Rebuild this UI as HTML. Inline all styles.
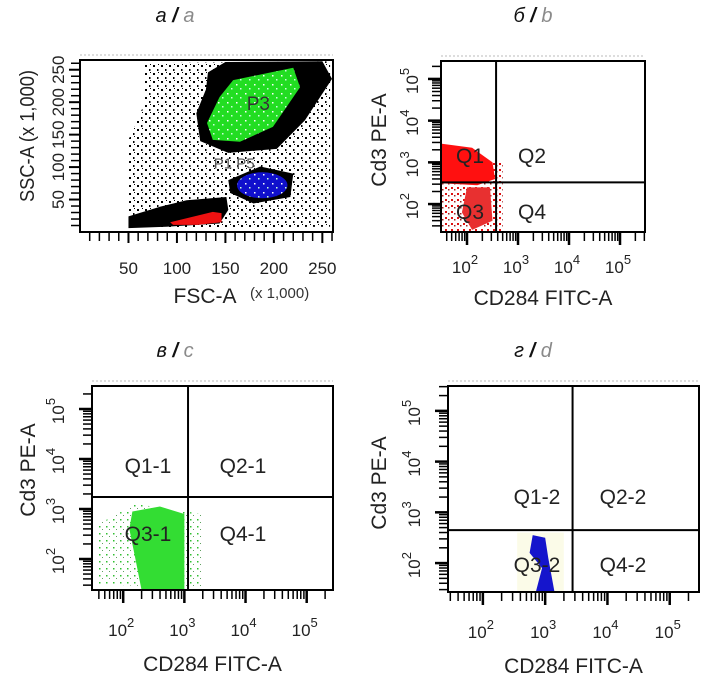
<!DOCTYPE html>
<html><head><meta charset="utf-8">
<style>
html,body{margin:0;padding:0;background:#fff;}
svg{display:block;font-family:"Liberation Sans",sans-serif;}
</style></head>
<body>
<svg id="fig" width="716" height="688" viewBox="0 0 716 688" xmlns="http://www.w3.org/2000/svg">
<defs>
<pattern id="blackStip" width="8" height="8" patternUnits="userSpaceOnUse">
<rect x="1" y="1" width="2" height="2" fill="#000"/><rect x="5" y="5" width="1.5" height="2" fill="#000"/><rect x="6" y="0" width="1" height="1" fill="#000"/>
</pattern>
<pattern id="redStip" width="6" height="6" patternUnits="userSpaceOnUse">
<rect x="1" y="1" width="2" height="2" fill="#e01010"/><rect x="4" y="3" width="1.5" height="1.5" fill="#a02020"/>
</pattern>
<pattern id="greenStip" width="7" height="7" patternUnits="userSpaceOnUse">
<rect x="1" y="1" width="1.5" height="1.5" fill="#30c030"/><rect x="4" y="4" width="1" height="1" fill="#60a060"/>
</pattern>
<pattern id="whiteDots" width="9" height="9" patternUnits="userSpaceOnUse">
<rect x="2" y="3" width="1.5" height="1.5" fill="#fff"/><rect x="6" y="7" width="1.5" height="1.5" fill="#cfd"/>
</pattern>
</defs>
</svg>
<script>
// ---------- DATA (data units) ----------
const aXTicks = [50, 100, 150, 200, 250];
const aYTicks = [50, 100, 150, 200, 250];
const aSparseCloud = [[65,260],[258,263],[258,8],[50,6],[50,142],[65,193]];
const aDenseUpper = [[132,246],[150,262],[250,263],[260,236],[232,172],[203,128],[153,122],[124,140],[120,183],[130,220]];
const aDenseMid = [[153,80],[186,101],[220,90],[217,54],[179,44],[155,60]];
const aDenseLow = [[50,24],[83,39],[110,49],[151,54],[153,34],[144,13],[89,8],[50,6]];
const aGateP3 = [[158,234],[220,253],[227,223],[199,162],[165,139],[137,142],[131,168],[144,208]];
const aGateRed = [[93,15],[137,31],[146,29],[146,15],[121,11],[96,11]];
const aBlueCenter = [188, 72];
const aBlueRadii = [26, 20];
const logTicks = [2, 3, 4, 5];
const bQuadX = 2.57, bQuadY = 2.52;
const bDense = [[1.49,3.45],[2.1,3.35],[2.5,3.0],[2.55,2.6],[2.2,2.45],[1.49,2.5]];
const bSparse = [[1.49,3.2],[2.7,3.0],[2.7,1.35],[1.49,1.35]];
const bLow = [[2.0,2.4],[2.45,2.4],[2.5,1.6],[2.1,1.38],[1.9,1.8]];
const cQuadX = 3.06, cQuadY = 3.24;
const cDense = [[2.15,2.95],[2.6,3.05],[3.0,2.9],[3.0,1.38],[2.3,1.38],[2.2,2.0],[2.1,2.6]];
const cSparse = [[1.6,2.7],[2.2,3.1],[3.3,2.9],[3.3,1.4],[1.6,1.5]];
const dQuadX = 3.44, dQuadY = 2.65;
const dDense = [[2.8,2.55],[3.0,2.5],[3.05,2.1],[3.15,1.43],[2.85,1.43],[2.95,1.9],[2.75,2.2]];
const dSparse = [[2.55,2.6],[3.3,2.6],[3.3,1.43],[2.55,1.43]];

const svg = document.getElementById('fig');
const NS = 'http://www.w3.org/2000/svg';
function mk(tag, attrs, parent){const e=document.createElementNS(NS,tag);for(const k in attrs)e.setAttribute(k,attrs[k]);(parent||svg).appendChild(e);return e;}
function lin(d0,d1,r0,r1){return v=>r0+(v-d0)/(d1-d0)*(r1-r0);}

function title(x,y,cyr,lat,name){
  const t=mk('text',{x:x,y:y,'text-anchor':'middle','font-size':20,'font-style':'italic'});
  
  
  const s1=mk('tspan',{fill:'#111'},t); s1.textContent=cyr+' ';
  const s2=mk('tspan',{fill:'#111','font-weight':'bold'},t); s2.textContent='/ ';
  const s3=mk('tspan',{fill:'#8a8a8a'},t); s3.textContent=lat;
}
function poly(g,pts,sx,sy,fill,name){
  const p=mk('polygon',{points:pts.map(q=>sx(q[0])+','+sy(q[1])).join(' '),fill:fill},g);
  
  
  return p;
}
function frame(g,L,T,R,B){
  mk('line',{x1:L,y1:T-5,x2:R,y2:T-5,stroke:'#bbb','stroke-width':1,'stroke-dasharray':'2 2'},g);
  const r=mk('rect',{x:L,y:T,width:R-L,height:B-T,fill:'none',stroke:'#000','stroke-width':2},g);
  
  
}

title(175,22,'а','a','panel-a-title');
title(533,22,'б','b','panel-b-title');
title(175,357,'в','c','panel-c-title');
title(533,357,'г','d','panel-d-title');

(function(){
  const L=80,T=60,R=333,B=232;
  const g=mk('g',{});
  
  
  const sx=lin(0,261,L,R), sy=lin(0,265,B,T);
  poly(g,aSparseCloud,sx,sy,'url(#blackStip)','sparse-events');
  poly(g,aDenseUpper,sx,sy,'#000','dense-events-upper');
  poly(g,aDenseMid,sx,sy,'#000','dense-events-mid');
  poly(g,aDenseLow,sx,sy,'#000','dense-events-low');
  poly(g,aGateP3,sx,sy,'#22dd22','gate-p3');
  poly(g,aGateP3,sx,sy,'url(#whiteDots)','gate-p3-dots');
  poly(g,aGateRed,sx,sy,'#ee1111','gate-red');
  const el=mk('ellipse',{cx:sx(aBlueCenter[0]),cy:sy(aBlueCenter[1]),rx:sx(aBlueRadii[0])-sx(0),ry:sy(0)-sy(aBlueRadii[1]),fill:'#1010cc'},g);
  
  
  mk('ellipse',{cx:sx(aBlueCenter[0]),cy:sy(aBlueCenter[1]),rx:sx(aBlueRadii[0])-sx(0),ry:sy(0)-sy(aBlueRadii[1]),fill:'url(#whiteDots)'},g);
  const p3=mk('text',{x:sx(172),y:sy(188),'font-size':19,fill:'#333'},g); p3.textContent='P3';
  
  
  const p5=mk('text',{x:sx(138),y:sy(98),'font-size':15,fill:'#555'},g); p5.textContent='P1  P5';
  
  
  frame(g,L,T,R,B);
  for(let v=10; v<=260; v+=10){
    const major = v%50===0;
    mk('line',{x1:sx(v),y1:B,x2:sx(v),y2:B+(major?11:9),stroke:'#000','stroke-width':major?2:1.5},g);
  }
  for(let v=10; v<=260; v+=10){
    const major = v%50===0;
    mk('line',{x1:L,y1:sy(v),x2:L-(major?11:9),y2:sy(v),stroke:'#000','stroke-width':major?2:1.5},g);
  }
  aXTicks.forEach(v=>{const t=mk('text',{x:sx(v),y:274,'text-anchor':'middle','font-size':17,fill:'#222'},g);t.textContent=v;
    
    });
  aYTicks.forEach(v=>{const t=mk('text',{x:0,y:0,'text-anchor':'middle','font-size':17,fill:'#222',transform:`translate(64,${sy(v)}) rotate(-90)`},g);t.textContent=v;
    
    });
  const xt=mk('text',{x:205,y:303,'text-anchor':'middle','font-size':21,fill:'#222'},g);xt.textContent='FSC-A';
  
  
  const xs=mk('text',{x:250,y:298,'font-size':15,fill:'#333'},g);xs.textContent='(x 1,000)';
  
  
  const yt=mk('text',{x:0,y:0,'text-anchor':'middle','font-size':20,fill:'#222',textLength:132,lengthAdjust:'spacingAndGlyphs',transform:'translate(34,136) rotate(-90)'},g);yt.textContent='SSC-A (x 1,000)';
  
  
})();

function logPanel(cfg){
  const {L,T,R,B,xd,yd,qx,qy,labels,xTitleY,xTickY,yTitleX,yTickX,name}=cfg;
  const g=mk('g',{});
  
  
  const sx=lin(xd[0],xd[1],L,R), sy=lin(yd[0],yd[1],B,T);
  cfg.regions.forEach(r=>poly(g,r[0],sx,sy,r[1],r[2]));
  frame(g,L,T,R,B);
  const qv=mk('line',{x1:sx(qx),y1:T,x2:sx(qx),y2:B,stroke:'#000','stroke-width':2},g);
  
  
  const qh=mk('line',{x1:L,y1:sy(qy),x2:R,y2:sy(qy),stroke:'#000','stroke-width':2},g);
  
  
  labels.forEach(q=>{const t=mk('text',{x:q[1],y:q[2],'text-anchor':'middle','font-size':21,fill:'#222'},g);t.textContent=q[0];
    
    });
  for(let d=1; d<=5; d++){
    for(let m=1; m<=9; m++){
      const v=d+Math.log10(m);
      const major=m===1;
      if(v>=xd[0]&&v<=xd[1]) mk('line',{x1:sx(v),y1:B,x2:sx(v),y2:B+(major?13:9),stroke:'#000','stroke-width':major?2.5:1.5},g);
      if(v>=yd[0]&&v<=yd[1]) mk('line',{x1:L,y1:sy(v),x2:L-(major?13:9),y2:sy(v),stroke:'#000','stroke-width':major?2.5:1.5},g);
    }
  }
  logTicks.forEach(e=>{
    const t=mk('text',{x:sx(e)-2,y:xTickY,'text-anchor':'middle','font-size':17,fill:'#222'},g);
    
    
    const a=mk('tspan',{},t);a.textContent='10';
    const b=mk('tspan',{dy:-9,'font-size':13},t);b.textContent=e;
    const u=mk('text',{x:0,y:0,'text-anchor':'middle','font-size':17,fill:'#222',transform:`translate(${yTickX},${sy(e)+2}) rotate(-90)`},g);
    
    
    const c=mk('tspan',{},u);c.textContent='10';
    const d=mk('tspan',{dy:-9,'font-size':13},u);d.textContent=e;
  });
  const xt=mk('text',{x:(L+R)/2,y:xTitleY,'text-anchor':'middle','font-size':21,fill:'#222'},g);xt.textContent='CD284 FITC-A';
  
  
  const yt=mk('text',{x:0,y:0,'text-anchor':'middle','font-size':21,fill:'#222',transform:`translate(${yTitleX},${cfg.yTitleC}) rotate(-90)`},g);yt.textContent='Cd3 PE-A';
  
  
}

logPanel({name:'panel-b',L:441,T:61,R:645,B:232,xd:[1.49,5.49],yd:[1.33,5.43],qx:bQuadX,qy:bQuadY,
  regions:[[bSparse,'url(#redStip)','sparse-events'],[bLow,'#e83030','events-q3'],[bDense,'#ff1010','events-q1']],
  labels:[['Q1',470,163],['Q2',532,163],['Q3',470,219],['Q4',532,219]],
  xTickY:273,xTitleY:305,yTitleX:386,yTitleC:140,yTickX:418});
logPanel({name:'panel-c',L:92,T:386,R:333,B:590,xd:[1.49,5.43],yd:[1.38,5.46],qx:cQuadX,qy:cQuadY,
  regions:[[cSparse,'url(#greenStip)','sparse-events'],[cDense,'#33dd33','events-q3-1']],
  labels:[['Q1-1',148,473],['Q2-1',243,473],['Q3-1',148,541],['Q4-1',243,541]],
  xTickY:636,xTitleY:671,yTitleX:35,yTitleC:470,yTickX:64});
logPanel({name:'panel-d',L:448,T:386,R:699,B:592,xd:[1.44,5.47],yd:[1.43,5.49],qx:dQuadX,qy:dQuadY,
  regions:[[dSparse,'#fbfbe8','sparse-events'],[dDense,'#1515cc','events-q3-2']],
  labels:[['Q1-2',537,504],['Q2-2',623,504],['Q3-2',537,572],['Q4-2',623,572]],
  xTickY:638,xTitleY:673,yTitleX:386,yTitleC:483,yTickX:420});
</script>
</body></html>
